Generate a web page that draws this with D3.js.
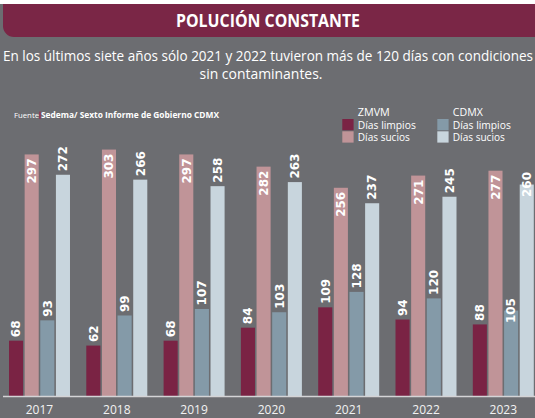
<!DOCTYPE html>
<html><head><meta charset="utf-8">
<script src="https://cdn.jsdelivr.net/npm/d3@7"></script>
<style>html,body{margin:0;padding:0;background:#fff;}svg{display:block;}</style>
</head><body>
<svg id="chart" width="535" height="418"></svg>
<script>
const years = ["2017","2018","2019","2020","2021","2022","2023"];
const zmvmLimpios = [68, 62, 68, 84, 109, 94, 88];
const zmvmSucios = [297, 303, 297, 282, 256, 271, 277];
const cdmxLimpios = [93, 99, 107, 103, 128, 120, 105];
const cdmxSucios = [272, 266, 258, 263, 237, 245, 260];
const seriesNames = ["ZMVM Días limpios","ZMVM Días sucios","CDMX Días limpios","CDMX Días sucios"];
const seriesColors = ["#7a2344","#c09498","#849aa8","#c8d5dd"];
const title = "POLUCIÓN CONSTANTE";
const subtitle1 = "En los últimos siete años sólo 2021 y 2022 tuvieron más de 120 días con condiciones";
const subtitle2 = "sin contaminantes.";

const seriesValues = [zmvmLimpios, zmvmSucios, cdmxLimpios, cdmxSucios];
const svg = d3.select("#chart");
const W = 535, H = 418;
const FONT = "'Open Sans', 'Noto Sans', sans-serif";

// background
svg.append("rect").attr("x",0).attr("y",0).attr("width",W).attr("height",H).attr("fill","#fff");
svg.append("rect").attr("x",0).attr("y",4).attr("width",W).attr("height",H-4).attr("fill","#6c6d71");

// banner with rounded bottom-left corner
const bx=3, by=4, bw=W, bh=33, r=11;
svg.append("path")
  .attr("d", `M${bx},${by} H${bw} V${by+bh} H${bx+r} A${r},${r} 0 0 1 ${bx},${by+bh-r} Z`)
  .attr("fill","#7a2646");
svg.append("text").attr("x",268).attr("y",27).attr("text-anchor","middle")
  .attr("font-family",FONT).attr("font-weight",700).attr("font-size",17)
  .attr("fill","#fff").attr("textLength",184).attr("lengthAdjust","spacingAndGlyphs").text(title);

svg.append("text").attr("x",268).attr("y",61).attr("text-anchor","middle")
  .attr("font-family",FONT).attr("font-size",14.5).attr("fill","#fff")
  .attr("textLength",530).attr("lengthAdjust","spacingAndGlyphs").text(subtitle1);
svg.append("text").attr("x",261).attr("y",79).attr("text-anchor","middle")
  .attr("font-family",FONT).attr("font-size",14.5).attr("fill","#fff")
  .attr("textLength",123).attr("lengthAdjust","spacingAndGlyphs").text(subtitle2);

// source
svg.append("text").attr("x",14).attr("y",118).attr("font-family",FONT).attr("font-size",8)
  .attr("fill","#fff").attr("textLength",25).attr("lengthAdjust","spacingAndGlyphs").text("Fuente");
svg.append("rect").attr("x",39.3).attr("y",111.5).attr("width",1.3).attr("height",7.5).attr("fill","#9b2a4e");
svg.append("text").attr("x",41).attr("y",118).attr("font-family",FONT).attr("font-size",8).attr("font-weight",700)
  .attr("fill","#fff").attr("textLength",178).attr("lengthAdjust","spacingAndGlyphs").text("Sedema/ Sexto Informe de Gobierno CDMX");

// legend
const legendCols = [{head:"ZMVM", x:342.3, idx:[0,1]}, {head:"CDMX", x:437.3, idx:[2,3]}];
legendCols.forEach(c => {
  const g = svg.append("g");
  g.append("text").attr("x",c.x+15.5).attr("y",115.8).attr("font-family",FONT).attr("font-size",11)
    .attr("fill","#fff").attr("textLength",c.head==="ZMVM"?32:30).attr("lengthAdjust","spacingAndGlyphs").text(c.head);
  c.idx.forEach((si, k) => {
    g.append("rect").attr("x",c.x).attr("y",119+k*12.3).attr("width",11.3).attr("height",11.3).attr("fill",seriesColors[si]);
    const lab = seriesNames[si].replace(/^(ZMVM|CDMX) /,"");
    g.append("text").attr("x",c.x+15.5).attr("y",128.5+k*12.3).attr("font-family",FONT).attr("font-size",11)
      .attr("fill","#fff").attr("textLength",lab==="Días limpios"?58:52).attr("lengthAdjust","spacingAndGlyphs").text(lab);
  });
});

// scales
const x0 = d3.scaleBand().domain(years).range([9, 533.8]).paddingInner(0.211).paddingOuter(0);
const x1 = d3.scaleBand().domain(d3.range(4)).range([0, x0.bandwidth()]).paddingInner(0.1).paddingOuter(0);
const y = d3.scaleLinear().domain([0, 300]).range([396, 152]);

const data = [];
years.forEach((yr, i) => seriesValues.forEach((arr, s) => data.push({yr, i, s, v: arr[i]})));

const bars = svg.append("g");
bars.selectAll("rect").data(data).join("rect")
  .attr("x", d => x0(d.yr) + x1(d.s))
  .attr("y", d => y(d.v))
  .attr("width", x1.bandwidth())
  .attr("height", d => y(0) - y(d.v))
  .attr("fill", d => seriesColors[d.s]);

// value labels
const labels = svg.append("g");
labels.selectAll("text").data(data).join("text")
  .attr("transform", d => {
    const cx = x0(d.yr) + x1(d.s) + x1.bandwidth()/2;
    let yy;
    if (d.s === 1) yy = y(d.v) + 4;
    else if (d.s >= 2 && d.i === years.length - 1) yy = y(d.v) + 12.5;
    else yy = y(d.v) - 3.5;
    return `translate(${cx},${yy}) rotate(-90)`;
  })
  .attr("text-anchor", d => d.s === 1 ? "end" : "start")
  .attr("dy","0.36em")
  .attr("font-family","'DejaVu Sans', sans-serif").attr("font-weight",700).attr("font-size",12)
  .attr("fill","#fff")
  .text(d => d.v);

// baseline and axis
svg.append("line").attr("x1",3).attr("x2",W).attr("y1",396.5).attr("y2",396.5)
  .attr("stroke","#d4d4d6").attr("stroke-width",1.5);
const axis = d3.axisBottom(x0).tickSize(0).tickPadding(0);
const ag = svg.append("g").attr("transform","translate(0,396)").call(axis);
ag.select(".domain").remove();
ag.selectAll("text").attr("y",18).attr("dy",0).attr("font-family",FONT).attr("font-size",13)
  .attr("fill","#f2f2f2").attr("textLength",27.5).attr("lengthAdjust","spacingAndGlyphs");
</script>
</body></html>
